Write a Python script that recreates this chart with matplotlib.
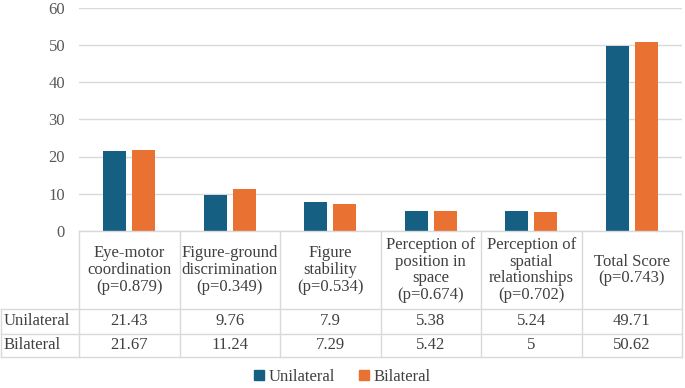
import matplotlib
matplotlib.use("Agg")
import matplotlib.pyplot as plt
from matplotlib.patches import Patch
from matplotlib.transforms import blended_transform_factory
from matplotlib import font_manager
from matplotlib.font_manager import FontProperties
import numpy as np

categories = ["Eye-motor\ncoordination\n(p=0.879)",
              "Figure-ground\ndiscrimination\n(p=0.349)",
              "Figure\nstability\n(p=0.534)",
              "Perception of\nposition in\nspace\n(p=0.674)",
              "Perception of\nspatial\nrelationships\n(p=0.702)",
              "Total Score\n(p=0.743)"]
series_names = ["Unilateral", "Bilateral"]
unilateral = [21.43, 9.76, 7.9, 5.38, 5.24, 49.71]
bilateral = [21.67, 11.24, 7.29, 5.42, 5, 50.62]
unilateral_labels = ["21.43", "9.76", "7.9", "5.38", "5.24", "49.71"]
bilateral_labels = ["21.67", "11.24", "7.29", "5.42", "5", "50.62"]
yticks = [0, 10, 20, 30, 40, 50, 60]

colors = ["#156082", "#E97132"]
fs = 12
serif_path = font_manager.findfont(FontProperties(family='Liberation Serif'))
FP = FontProperties(fname=serif_path, size=fs)

W, H = 685, 388
fig = plt.figure(figsize=(W / 100, H / 100), dpi=100)

def fx(px):
    return px / W

def fy(py):
    return 1 - py / H

ax_left, ax_right, ax_top, ax_bot = 79, 682, 7.5, 231
ax = fig.add_axes([fx(ax_left), fy(ax_bot), fx(ax_right - ax_left), (ax_bot - ax_top) / H])

x = np.arange(len(categories))
bw = 0.23
off = 0.145
ax.bar(x - off, unilateral, bw, color=colors[0], zorder=3)
ax.bar(x + off, bilateral, bw, color=colors[1], zorder=3)
ax.set_xlim(-0.5, len(categories) - 0.5)
ax.set_ylim(0, 60)
ax.set_yticks(yticks)
ax.set_yticklabels([str(t) for t in yticks], fontproperties=FP, color="#595959")
ax.tick_params(axis='y', length=0, pad=10)
ax.set_xticks([])
ax.grid(axis='y', color="#d9d9d9", linewidth=1.0, zorder=0)
for s in ["top", "right", "left", "bottom"]:
    ax.spines[s].set_visible(False)

# Data table
tr = blended_transform_factory(ax.transData, fig.transFigure)
line_c = "#d9d9d9"
lw = 1.0
y_top, y_r1, y_r2, y_bot = ax_bot, 309, 333.5, 357
txt_c = "#404040"

fig.add_artist(plt.Line2D([fx(ax_left), fx(ax_right)], [fy(y_top)] * 2, color=line_c, lw=lw, transform=fig.transFigure))
for yy in (y_r1, y_r2, y_bot):
    fig.add_artist(plt.Line2D([fx(1), fx(ax_right)], [fy(yy)] * 2, color=line_c, lw=lw, transform=fig.transFigure))
fig.add_artist(plt.Line2D([fx(1), fx(1)], [fy(y_r1), fy(y_bot)], color=line_c, lw=lw, transform=fig.transFigure))
for b in np.arange(len(categories) + 1) - 0.5:
    fig.add_artist(plt.Line2D([b, b], [fy(y_top), fy(y_bot)], color=line_c, lw=lw, transform=tr))

for i, c in enumerate(categories):
    fig.text(i, fy((y_top + y_r1) / 2), c, transform=tr, ha='center', va='center', fontproperties=FP,
             color=txt_c, linespacing=1.05, multialignment='center')
    fig.text(i, fy((y_r1 + y_r2) / 2), unilateral_labels[i], transform=tr, ha='center', va='center',
             fontproperties=FP, color=txt_c)
    fig.text(i, fy((y_r2 + y_bot) / 2), bilateral_labels[i], transform=tr, ha='center', va='center',
             fontproperties=FP, color=txt_c)

fig.text(fx(4), fy((y_r1 + y_r2) / 2), series_names[0], ha='left', va='center', fontproperties=FP, color=txt_c)
fig.text(fx(4), fy((y_r2 + y_bot) / 2), series_names[1], ha='left', va='center', fontproperties=FP, color=txt_c)

handles = [Patch(color=colors[0], label=series_names[0]), Patch(color=colors[1], label=series_names[1])]
fig.legend(handles=handles, loc='center', bbox_to_anchor=(0.5, fy(377)), ncol=2, frameon=False,
           prop=FP, handlelength=0.6, handleheight=0.6, handletextpad=0.3,
           columnspacing=1.4, labelcolor=txt_c)

fig.savefig("out.png", dpi=100)
